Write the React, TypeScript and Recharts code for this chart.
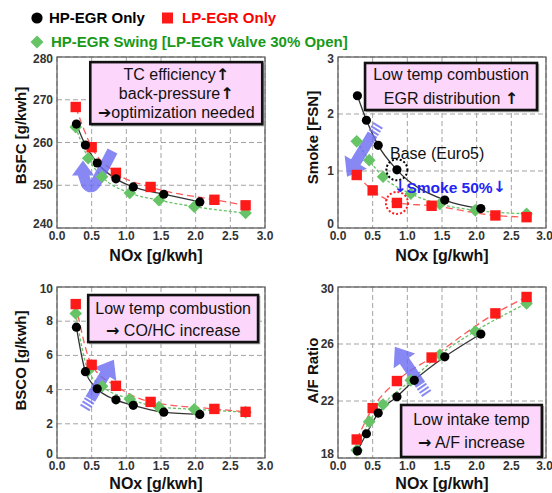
import React from 'react';
import {
  LineChart,
  Line,
  XAxis,
  YAxis,
  CartesianGrid,
  ReferenceArea,
  ReferenceLine,
  ReferenceDot,
} from 'recharts';

const FONT = '"Liberation Sans", Arial, Helvetica, sans-serif';
const ARROW_FONT = '"DejaVu Sans", sans-serif';

// ---------- data ----------
const noxTicks = [0, 0.5, 1, 1.5, 2, 2.5, 3];

const hpNox = [0.28, 0.41, 0.58, 0.85, 1.1, 1.54, 2.06];
const lpNox = [0.27, 0.5, 0.85, 1.35, 2.27, 2.72];
const swNox = [0.27, 0.45, 0.65, 1.05, 1.47, 1.98, 2.72];

const hpBsfc = [264.3, 259.4, 255.2, 251.5, 249.6, 247.9, 246.1];
const lpBsfc = [268.3, 258.9, 252.9, 249.6, 246.6, 245.3];
const swBsfc = [263.6, 256.3, 252.0, 248.2, 246.5, 245.0, 243.5];

const hpSmoke = [2.32, 1.89, 1.45, 1.02, null, 0.49, 0.34];
const lpSmoke = [0.93, 0.66, 0.44, 0.39, 0.22, 0.19];
const swSmoke = [1.52, 1.19, 0.9, 0.6, 0.42, 0.31, 0.25];

const hpBsco = [7.65, 5.05, 4.05, 3.4, 3.08, 2.68, 2.55];
const lpBsco = [9.0, 5.45, 4.22, 3.28, 2.87, 2.7];
const swBsco = [8.45, 5.1, 4.2, 3.45, 2.98, 2.85, 2.68];

const hpAf = [18.5, 19.7, 21.15, 22.3, 23.45, 25.1, 26.7];
const lpAf = [19.3, 21.5, 23.4, 25.05, 28.15, 29.3];
const swAf = [18.55, 20.55, 21.75, 23.45, 25.25, 26.9, 28.85];

const bsfcTicks = [240, 250, 260, 270, 280];
const smokeTicks = [0, 1, 2, 3];
const bscoTicks = [0, 2, 4, 6, 8, 10];
const afTicks = [18, 22, 26, 30];

const legendLabels = ['HP-EGR Only', 'LP-EGR Only', 'HP-EGR Swing [LP-EGR Valve 30% Open]'];

const pts = (xs: number[], ys: (number | null)[]) => xs.map((x, i) => ({ x, y: ys[i] }));

// ---------- styling helpers ----------
const BLACK = '#000000';
const RED = '#ff1a1a';
const GREEN = '#66c466';
const ARROW = '#6b6bf3';

const circleDot = (p: any) =>
  p.cx == null || p.cy == null || p.value == null ? (
    <g key={`c${p.index}`} />
  ) : (
    <circle key={`c${p.index}`} cx={p.cx} cy={p.cy} r={4.6} fill={BLACK} />
  );
const squareDot = (p: any) =>
  p.cx == null || p.cy == null ? (
    <g key={`s${p.index}`} />
  ) : (
    <rect key={`s${p.index}`} x={p.cx - 5.2} y={p.cy - 5.2} width={10.4} height={10.4} fill={RED} />
  );
const diamondDot = (p: any) =>
  p.cx == null || p.cy == null ? (
    <g key={`d${p.index}`} />
  ) : (
    <polygon
      key={`d${p.index}`}
      points={`${p.cx},${p.cy - 6.3} ${p.cx + 6.3},${p.cy} ${p.cx},${p.cy + 6.3} ${p.cx - 6.3},${p.cy}`}
      fill={GREEN}
    />
  );

const borderShape = (p: any) => (
  <rect x={p.x} y={p.y} width={p.width} height={p.height} fill="none" stroke="#555" strokeWidth={1.2} />
);

// render a string, drawing arrow glyphs with a font that has bold, full-size arrows
const richText = (t: string) =>
  t.split(/([↑↓→➔])/).filter((s) => s.length > 0).map((s, i) =>
    /[↑↓→➔]/.test(s) ? (
      <tspan key={i} fontFamily={ARROW_FONT} fontWeight={700}>
        {s}
      </tspan>
    ) : (
      <tspan key={i}>{s}</tspan>
    )
  );

const noteShape = (lines: string[], spacing: number) => (p: any) => {
  const cx = p.x + p.width / 2;
  const cy = p.y + p.height / 2;
  const start = cy - ((lines.length - 1) * spacing) / 2;
  return (
    <g>
      <rect x={p.x + 1.5} y={p.y + 1.5} width={p.width} height={p.height} fill="none" stroke="#aaa" strokeWidth={1.5} />
      <rect x={p.x} y={p.y} width={p.width} height={p.height} fill="#fcd6fb" stroke="#111" strokeWidth={2.6} />
      {lines.map((t, i) => (
        <text
          key={i}
          x={cx}
          y={start + i * spacing}
          textAnchor="middle"
          dominantBaseline="central"
          fontFamily={FONT}
          fontSize={16}
          fill="#111"
        >
          {richText(t)}
        </text>
      ))}
    </g>
  );
};

const straightArrow = (p: any) => {
  const { x1, y1, x2, y2 } = p;
  const dx = x2 - x1;
  const dy = y2 - y1;
  const L = Math.hypot(dx, dy);
  const ux = dx / L;
  const uy = dy / L;
  const nx = -uy;
  const ny = ux;
  const shaftW = 11;
  const headW = 26;
  const headL = 17;
  const sz = 11;
  const pt = (d: number, o: number) => `${x1 + ux * d + nx * o},${y1 + uy * d + ny * o}`;
  const body = [
    pt(sz, -shaftW / 2),
    pt(L - headL, -shaftW / 2),
    pt(L - headL, -headW / 2),
    pt(L, 0),
    pt(L - headL, headW / 2),
    pt(L - headL, shaftW / 2),
    pt(sz, shaftW / 2),
  ].join(' ');
  const stripes = [0, 3.8, 7.6].map((d) =>
    [pt(d, -shaftW / 2), pt(d + 2, -shaftW / 2), pt(d + 2, shaftW / 2), pt(d, shaftW / 2)].join(' ')
  );
  return (
    <g fill={ARROW} opacity={0.8}>
      <polygon points={body} />
      {stripes.map((s, i) => (
        <polygon key={i} points={s} />
      ))}
    </g>
  );
};

const curvedArrow = (p: any) => {
  const { x1, y1, x2, y2 } = p;
  const d = `M ${x1} ${y1} L ${x1 - 15} ${y1 + 29} Q ${x1 - 20} ${y1 + 40} ${x1 - 26} ${y1 + 33} L ${x2} ${y2 + 13}`;
  return (
    <g opacity={0.8}>
      <path d={d} fill="none" stroke={ARROW} strokeWidth={11} strokeLinejoin="round" />
      <polygon points={`${x2},${y2} ${x2 + 11},${y2 + 15} ${x2 - 11},${y2 + 15}`} fill={ARROW} />
    </g>
  );
};

const textShape = (t: string, color: string, size: number, weight: number) => (p: any) => (
  <text x={p.cx} y={p.cy} dominantBaseline="central" fontFamily={FONT} fontSize={size} fontWeight={weight} fill={color}>
    {richText(t)}
  </text>
);

// ---------- panel ----------
type PanelProps = {
  left: number;
  top: number;
  width: number;
  height: number;
  marginRight: number;
  xAxisHeight: number;
  xLabelBaseFromBottom: number;
  xLabelDx: number;
  yTicks: number[];
  yTitle: string;
  yTitleX: number;
  yTitleShift: number;
  hp: (number | null)[];
  lp: number[];
  sw: number[];
  children?: React.ReactNode;
};

function Panel(props: PanelProps) {
  const { left, top, width, height, marginRight, xAxisHeight, xLabelBaseFromBottom, xLabelDx, yTicks, yTitle, yTitleX, yTitleShift, hp, lp, sw, children } = props;
  const yDomain = [yTicks[0], yTicks[yTicks.length - 1]];
  const tickStyle = { fontSize: 12, fontWeight: 700, fill: '#333', fontFamily: FONT };
  const yTick = (p: any) => (
    <text
      x={p.x}
      y={p.y + (p.payload.value === yTicks[0] ? -4 : 0)}
      textAnchor="end"
      dominantBaseline="central"
      fontSize={12}
      fontWeight={700}
      fill="#333"
      fontFamily={FONT}
    >
      {p.payload.value}
    </text>
  );
  return (
    <div style={{ position: 'absolute', left, top }}>
      <LineChart width={width} height={height} margin={{ top: 7, right: marginRight, left: 0, bottom: 0 }}>
        <CartesianGrid stroke="#a3a3a3" strokeDasharray="5 3" />
        <XAxis
          type="number"
          dataKey="x"
          domain={[0, 3]}
          ticks={noxTicks}
          tickFormatter={(v: number) => v.toFixed(1)}
          tickLine={false}
          axisLine={false}
          tickSize={0}
          tickMargin={3}
          tick={tickStyle}
          height={xAxisHeight}
          allowDataOverflow
          label={{
            content: (lp2: any) => {
              const vb = lp2.viewBox || { x: 0, y: 0, width: 0, height: 0 };
              return (
                <text
                  x={vb.x + vb.width / 2 + xLabelDx}
                  y={vb.y + vb.height - xLabelBaseFromBottom}
                  textAnchor="middle"
                  fontFamily={FONT}
                  fontSize={16}
                  fontWeight={700}
                  fill="#111"
                >
                  NOx [g/kwh]
                </text>
              );
            },
          }}
        />
        <YAxis
          type="number"
          domain={yDomain}
          ticks={yTicks}
          width={57}
          tickLine={false}
          axisLine={false}
          tickSize={0}
          tickMargin={4}
          tick={yTick}
          allowDataOverflow
          label={{
            content: (lp2: any) => {
              const vb = lp2.viewBox || { x: 0, y: 0, width: 0, height: 0 };
              const x = vb.x + yTitleX;
              const y = vb.y + vb.height / 2 + yTitleShift;
              return (
                <text
                  x={x}
                  y={y}
                  transform={`rotate(-90, ${x}, ${y})`}
                  textAnchor="middle"
                  dominantBaseline="central"
                  fontFamily={FONT}
                  fontSize={15}
                  fontWeight={700}
                  fill="#111"
                >
                  {yTitle}
                </text>
              );
            },
          }}
        />
        <ReferenceArea x1={0} x2={3} y1={yDomain[0]} y2={yDomain[1]} shape={borderShape} ifOverflow="visible" />
        <Line
          data={pts(swNox, sw)}
          dataKey="y"
          type="monotone"
          stroke={GREEN}
          strokeWidth={1.3}
          strokeDasharray="3 2"
          dot={diamondDot}
          activeDot={false}
          isAnimationActive={false}
        />
        <Line
          data={pts(lpNox, lp)}
          dataKey="y"
          type="monotone"
          stroke="#ff5a5a"
          strokeWidth={1.3}
          strokeDasharray="7 4"
          dot={squareDot}
          activeDot={false}
          isAnimationActive={false}
        />
        <Line
          data={pts(hpNox, hp)}
          dataKey="y"
          type="monotone"
          stroke="#333"
          strokeWidth={1.3}
          connectNulls
          dot={circleDot}
          activeDot={false}
          isAnimationActive={false}
        />
        {children}
      </LineChart>
    </div>
  );
}

function LegendBlock() {
  const t = { position: 'absolute' as const, fontFamily: FONT, fontSize: 15, fontWeight: 700, lineHeight: '18px', whiteSpace: 'nowrap' as const };
  return (
    <>
      <svg style={{ position: 'absolute', left: 0, top: 0 }} width={200} height={50}>
        <circle cx={37} cy={18} r={5.6} fill={BLACK} />
        <rect x={162} y={12.5} width={11} height={11} fill={RED} />
        <polygon points="37,35.5 43.5,42 37,48.5 30.5,42" fill={GREEN} />
      </svg>
      <div style={{ ...t, left: 49, top: 9, color: '#000' }}>{legendLabels[0]}</div>
      <div style={{ ...t, left: 182, top: 9, color: '#ff0000' }}>{legendLabels[1]}</div>
      <div style={{ ...t, left: 51, top: 33, color: '#189a18' }}>{legendLabels[2]}</div>
    </>
  );
}

export default function App() {
  return (
    <div style={{ position: 'absolute', left: 0, top: 0, width: 552, height: 493, background: '#fff', overflow: 'hidden' }}>
      <LegendBlock />
      <Panel
        left={0}
        top={50}
        width={280}
        height={218}
        marginRight={15}
        xAxisHeight={40}
        xLabelBaseFromBottom={7}
        xLabelDx={-5}
        yTicks={bsfcTicks}
        yTitle="BSFC [g/kwh]"
        yTitleX={20}
        yTitleShift={-7}
        hp={hpBsfc}
        lp={lpBsfc}
        sw={swBsfc}
      >
        <ReferenceArea x1={0.48} x2={2.96} y1={264.3} y2={278.8} shape={noteShape(['TC efficiency↑', 'back-pressure↑', '➔optimization needed'], 19)} ifOverflow="visible" />
        <ReferenceLine segment={[{ x: 0.8, y: 258.0 }, { x: 0.375, y: 255.8 }]} shape={curvedArrow} ifOverflow="visible" />
      </Panel>
      <Panel
        left={281}
        top={50}
        width={271}
        height={218}
        marginRight={6}
        xAxisHeight={40}
        xLabelBaseFromBottom={7}
        xLabelDx={0}
        yTicks={smokeTicks}
        yTitle="Smoke [FSN]"
        yTitleX={31}
        yTitleShift={-5}
        hp={hpSmoke}
        lp={lpSmoke}
        sw={swSmoke}
      >
        <ReferenceArea x1={0.39} x2={2.87} y1={2.07} y2={2.895} shape={noteShape(['Low temp combustion', 'EGR distribution ↑'], 24)} ifOverflow="visible" />
        <ReferenceLine segment={[{ x: 0.58, y: 1.81 }, { x: 0.13, y: 0.9 }]} shape={straightArrow} ifOverflow="visible" />
        <ReferenceDot x={0.85} y={1.02} r={10.5} fill="none" stroke="#000" strokeWidth={2} strokeDasharray="2 2" ifOverflow="visible" />
        <ReferenceDot x={0.85} y={0.44} r={11} fill="none" stroke="#ff2020" strokeWidth={2} strokeDasharray="2 2" ifOverflow="visible" />
        <ReferenceDot x={0.75} y={1.32} r={1} shape={textShape('Base (Euro5)', '#111', 16, 400)} ifOverflow="visible" />
        <ReferenceDot x={0.8} y={0.72} r={1} shape={textShape('↓Smoke 50%↓', '#2525f5', 15.5, 700)} ifOverflow="visible" />
      </Panel>
      <Panel
        left={0}
        top={280}
        width={280}
        height={213}
        marginRight={15}
        xAxisHeight={35}
        xLabelBaseFromBottom={4}
        xLabelDx={-5}
        yTicks={bscoTicks}
        yTitle="BSCO [g/kwh]"
        yTitleX={20}
        yTitleShift={-12}
        hp={hpBsco}
        lp={lpBsco}
        sw={swBsco}
      >
        <ReferenceArea x1={0.45} x2={2.9} y1={6.78} y2={9.53} shape={noteShape(['Low temp combustion', '→ CO/HC increase'], 22)} ifOverflow="visible" />
        <ReferenceLine segment={[{ x: 0.4, y: 2.9 }, { x: 0.82, y: 5.75 }]} shape={straightArrow} ifOverflow="visible" />
      </Panel>
      <Panel
        left={281}
        top={280}
        width={271}
        height={213}
        marginRight={6}
        xAxisHeight={35}
        xLabelBaseFromBottom={4}
        xLabelDx={0}
        yTicks={afTicks}
        yTitle="A/F Ratio"
        yTitleX={31}
        yTitleShift={-2}
        hp={hpAf}
        lp={lpAf}
        sw={swAf}
      >
        <ReferenceArea x1={0.91} x2={2.94} y1={18.07} y2={21.72} shape={noteShape(['Low intake temp', '→ A/F increase'], 23)} ifOverflow="visible" />
        <ReferenceLine segment={[{ x: 1.28, y: 22.5 }, { x: 0.82, y: 25.8 }]} shape={straightArrow} ifOverflow="visible" />
      </Panel>
    </div>
  );
}
